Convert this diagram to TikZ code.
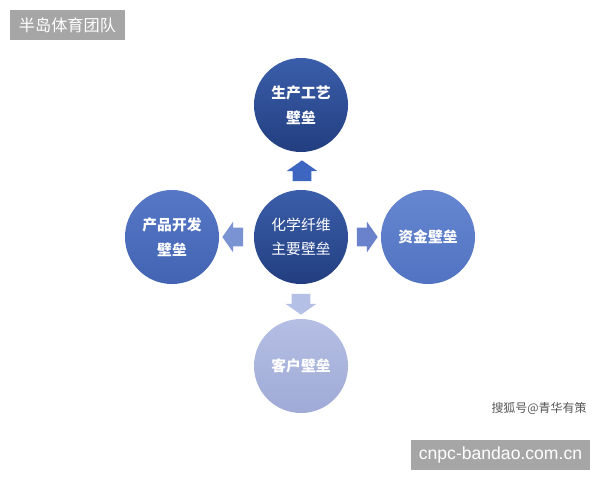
\documentclass[tikz,border=0pt]{standalone}
\usepackage{fontspec}
\setmainfont{Noto Sans CJK SC}
\newfontfamily\sitefont{Liberation Sans}
\usepackage{xcolor}
\definecolor{TagGray}{HTML}{A6A6A6}
\definecolor{MarkGray}{HTML}{555555}
\definecolor{DeepTop}{HTML}{3B5EAA}
\definecolor{DeepBot}{HTML}{223E80}
\definecolor{MidTop}{HTML}{5577C6}
\definecolor{MidBot}{HTML}{4264B3}
\definecolor{SoftTop}{HTML}{6686D0}
\definecolor{SoftBot}{HTML}{5173C1}
\definecolor{PaleTop}{HTML}{B5BFE4}
\definecolor{PaleBot}{HTML}{9FAAD6}
\definecolor{UpBlue}{HTML}{3D66C0}
\definecolor{LeftBlue}{HTML}{7A93D3}
\definecolor{RightBlue}{HTML}{6A82CC}
\definecolor{DownBlue}{HTML}{B5C0E6}
\usetikzlibrary{shapes.arrows}

\begin{document}
\begin{tikzpicture}[x=0.025cm,y=-0.025cm,
 wall/.style={circle,minimum size=2.35cm,inner sep=0pt,text=white,align=center,
  font=\fontsize{10.5}{17.5}\selectfont\bfseries},
 core/.style={wall,font=\fontsize{10.5}{17.5}\selectfont},
 push/.style={single arrow,draw=none,inner xsep=0pt,inner ysep=0.225cm,minimum height=0.52cm,
  single arrow head extend=0.15cm,single arrow tip angle=110},
 tag/.style={fill=TagGray,text=white,inner sep=0pt,minimum height=0.75cm}]
\useasboundingbox (0,0) rectangle (600,480);
% barrier circles
\node[core,top color=DeepTop,bottom color=DeepBot] (core) at (301,237) {化学纤维\\主要壁垒};
\node[wall,top color=DeepTop,bottom color=DeepBot] (craft) at (301,105) {生产工艺\\壁垒};
\node[wall,top color=MidTop,bottom color=MidBot] (dev) at (172,237) {产品开发\\壁垒};
\node[wall,top color=SoftTop,bottom color=SoftBot] (fund) at (428,237) {资金壁垒};
\node[wall,top color=PaleTop,bottom color=PaleBot] (client) at (301,366) {客户壁垒};
% block arrows
\node[push,fill=UpBlue,rotate=90] (toup) at (302,174) {};
\node[push,fill=LeftBlue,rotate=180] (toleft) at (236,237) {};
\node[push,fill=RightBlue] (toright) at (364,237) {};
\node[push,fill=DownBlue,rotate=-90] (todown) at (301,301) {};
% labels
\node[tag,minimum width=2.875cm,font=\fontsize{11.5}{12}\selectfont] (team) at (67.5,25) {半岛体育团队};
\node[tag,minimum width=4.475cm,font=\sitefont\fontsize{12.5}{13}\selectfont] (site) at (500.5,455) {cnpc-bandao.com.cn};
\node[text=MarkGray,font=\fontsize{8.5}{9}\selectfont] (mark) at (539,408) {搜狐号@青华有策};
\end{tikzpicture}
\end{document}
